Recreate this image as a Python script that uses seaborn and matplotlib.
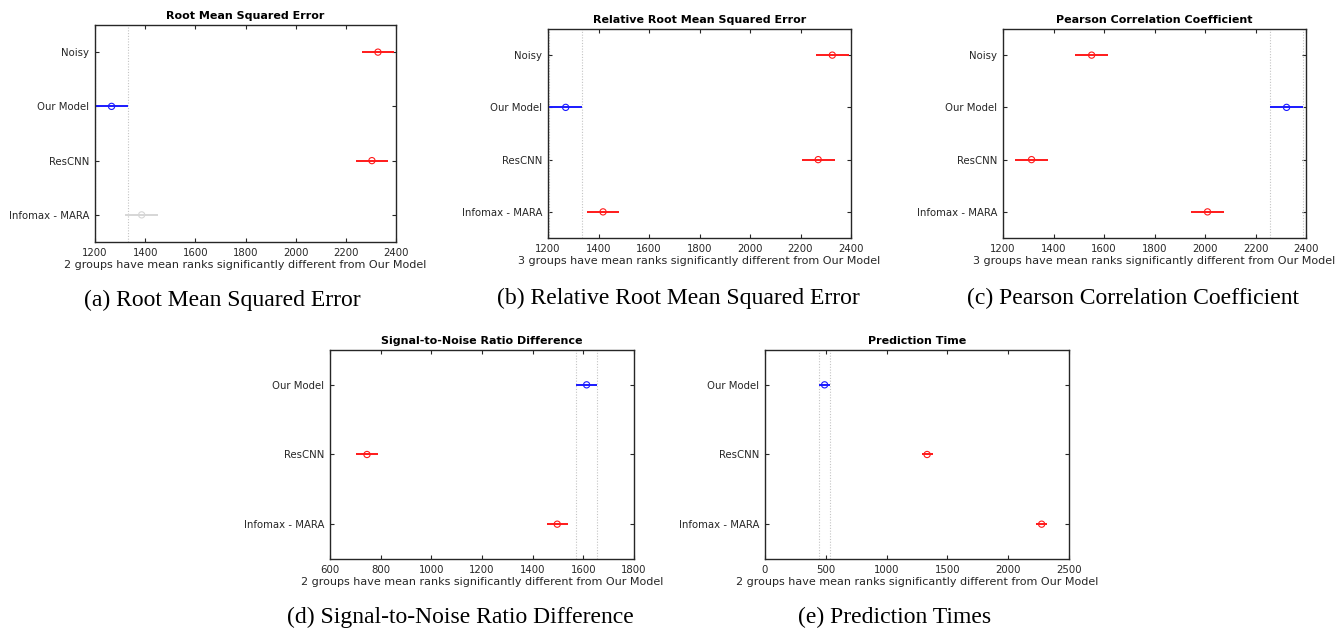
import matplotlib
matplotlib.use("Agg")
import matplotlib.pyplot as plt
import numpy as np
import pandas as pd
import seaborn as sns

# Mean ranks and comparison-interval half widths (multiple comparison of mean ranks)
groups_a = ["Noisy", "Our Model", "ResCNN", "Infomax - MARA"]
means_a = [2328, 1266, 2304, 1386]
status_a = ["sig", "ref", "sig", "ns"]
half_a = 65

groups_b = ["Noisy", "Our Model", "ResCNN", "Infomax - MARA"]
means_b = [2326, 1270, 2270, 1418]
status_b = ["sig", "ref", "sig", "sig"]
half_b = 65

groups_c = ["Noisy", "Our Model", "ResCNN", "Infomax - MARA"]
means_c = [1551, 2323, 1313, 2010]
status_c = ["sig", "ref", "sig", "sig"]
half_c = 64

groups_d = ["Our Model", "ResCNN", "Infomax - MARA"]
means_d = [1613, 746, 1497]
status_d = ["ref", "sig", "sig"]
half_d = 42

groups_e = ["Our Model", "ResCNN", "Infomax - MARA"]
means_e = [490, 1333, 2275]
status_e = ["ref", "sig", "sig"]
half_e = 45

titles = ["Root Mean Squared Error", "Relative Root Mean Squared Error",
          "Pearson Correlation Coefficient", "Signal-to-Noise Ratio Difference",
          "Prediction Time"]
captions = ["(a) Root Mean Squared Error", "(b) Relative Root Mean Squared Error",
            "(c) Pearson Correlation Coefficient", "(d) Signal-to-Noise Ratio Difference",
            "(e) Prediction Times"]
xlabels = ["2 groups have mean ranks significantly different from Our Model",
           "3 groups have mean ranks significantly different from Our Model",
           "3 groups have mean ranks significantly different from Our Model",
           "2 groups have mean ranks significantly different from Our Model",
           "2 groups have mean ranks significantly different from Our Model"]
xlims = [(1200, 2400), (1200, 2400), (1200, 2400), (600, 1800), (0, 2500)]
xticks = [np.arange(1200, 2401, 200)] * 3 + [np.arange(600, 1801, 200), np.arange(0, 2501, 500)]

sns.set_theme(style="white")
plt.rcParams["font.family"] = ["DejaVu Sans"]

W, H = 1336, 629
fig = plt.figure(figsize=(W / 100, H / 100), dpi=100)

# axes boxes in pixels: left, top, right, bottom
boxes = [(95, 25, 396, 242), (548, 29, 851, 238), (1003, 29, 1306, 238),
         (330, 350, 634, 559), (765, 350, 1069, 559)]
caption_pos = [(222, 300), (678, 298), (1133, 298), (460, 617), (895, 617)]

palette = {"sig": "#ff1a1a", "ref": "#1a1aff", "ns": "#d6d6d6"}
ink = "#262626"

panels = [(groups_a, means_a, status_a, half_a), (groups_b, means_b, status_b, half_b),
          (groups_c, means_c, status_c, half_c), (groups_d, means_d, status_d, half_d),
          (groups_e, means_e, status_e, half_e)]

for k, (grp, mns, sts, hw) in enumerate(panels):
    l, t, r, b = boxes[k]
    ax = fig.add_axes([l / W, 1 - b / H, (r - l) / W, (b - t) / H])
    n = len(grp)
    df = pd.DataFrame({"group": grp, "mean": mns, "status": sts})
    df["pos"] = n - np.arange(n)
    df["lo"] = df["mean"] - hw
    df["hi"] = df["mean"] + hw

    ref = df[df["status"] == "ref"].iloc[0]
    for xv in (ref["lo"], ref["hi"]):
        ax.axvline(xv, color="#c4c4c4", lw=0.8, ls=(0, (1, 1.5)), zorder=1)

    for _, row in df.iterrows():
        ax.hlines(row["pos"], row["lo"], row["hi"], color=palette[row["status"]],
                  lw=1.4, zorder=2)
    sns.scatterplot(data=df, x="mean", y="pos", hue="status", palette=palette,
                    marker="o", s=20, facecolor="none", linewidth=0.8,
                    legend=False, ax=ax, zorder=3)
    for coll in ax.collections:
        if hasattr(coll, "get_offsets") and len(coll.get_offsets()) == n:
            coll.set_facecolor("none")
            coll.set_edgecolor([palette[s] for s in df["status"]])

    ax.set_xlim(*xlims[k])
    ax.set_ylim(0.5, n + 0.5)
    ax.set_xticks(xticks[k])
    ax.set_yticks(df["pos"])
    ax.set_yticklabels(df["group"])
    ax.tick_params(direction="in", length=3, width=0.8, colors=ink, labelsize=7.3,
                   top=True, right=True, bottom=True, left=True, pad=4)
    for sp in ax.spines.values():
        sp.set_visible(True)
        sp.set_color(ink)
        sp.set_linewidth(1.0)
    ax.set_xlabel(xlabels[k], fontsize=8, color=ink, labelpad=2)
    ax.set_ylabel("")
    ax.set_title(titles[k], fontsize=8, fontweight="bold", color="black", pad=4)

    cx, cy = caption_pos[k]
    fig.text(cx / W, 1 - cy / H, captions[k], ha="center", va="center",
             fontsize=17, family="Liberation Serif", color="black")

fig.savefig("out.png", dpi=100)
